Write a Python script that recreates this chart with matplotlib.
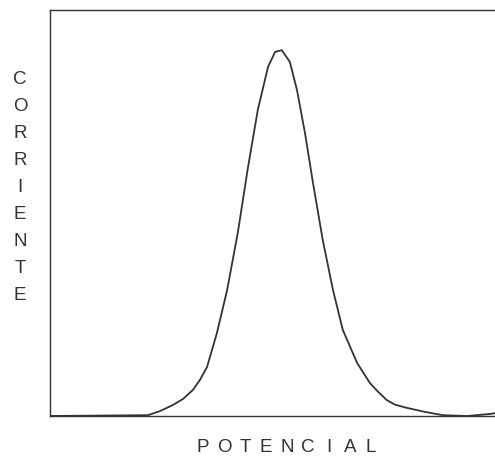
import matplotlib
matplotlib.use("Agg")
import matplotlib.pyplot as plt

# ---------------------------------------------------
# Curve (arbitrary units, 0-100)
# ---------------------------------------------------
potencial = [0, 22.0, 24.7, 27.6, 29.9, 32.1, 33.7, 35.3, 37.5, 39.8, 42.2,
             44.5, 46.7, 49.0, 50.6, 52.1, 53.9, 55.5, 57.3, 59.1, 61.3,
             63.6, 65.8, 69.0, 71.9, 73.7, 75.7, 77.5, 80.2, 84.3, 88.3,
             93.7, 98.9, 100]
corriente = [0, 0.2, 1.2, 2.7, 4.2, 6.4, 8.9, 12.1, 20.4, 31.0, 45.1,
             61.3, 75.4, 86.0, 89.7, 90.1, 87.2, 80.3, 69.7, 57.4, 43.3,
             31.0, 21.2, 13.1, 8.1, 6.0, 3.9, 2.8, 2.0, 1.0, 0.2,
             0, 0.5, 0.7]

ylabel_text = "CORRIENTE"
xlabel_text = "POTENCIAL"

plt.rcParams["font.family"] = ["Liberation Sans", "DejaVu Sans"]

fig = plt.figure(figsize=(4.95, 4.58), dpi=100)
ax = fig.add_axes([50 / 495, 42 / 458, 445 / 495, 406 / 458])

ax.plot(potencial, corriente, color="#333333", linewidth=1.3,
        solid_joinstyle="round")
ax.set_xlim(0, 100)
ax.set_ylim(0, 100)
ax.set_xticks([])
ax.set_yticks([])
ax.spines["right"].set_visible(False)
for s in ["left", "top", "bottom"]:
    ax.spines[s].set_color("#333333")
    ax.spines[s].set_linewidth(1.0)

# vertical label, one letter per line
for i, ch in enumerate(ylabel_text):
    y_px = 80 + i * 26.9
    fig.text(20 / 495, 1 - y_px / 458, ch, ha="center", va="center",
             fontsize=13.5, color="#333333")

# spaced x label
for i, ch in enumerate(xlabel_text):
    x_px = 203 + i * 21
    fig.text(x_px / 495, 1 - 447 / 458, ch, ha="center", va="center",
             fontsize=13.5, color="#333333")

fig.savefig("out.png", dpi=100, facecolor="white")
